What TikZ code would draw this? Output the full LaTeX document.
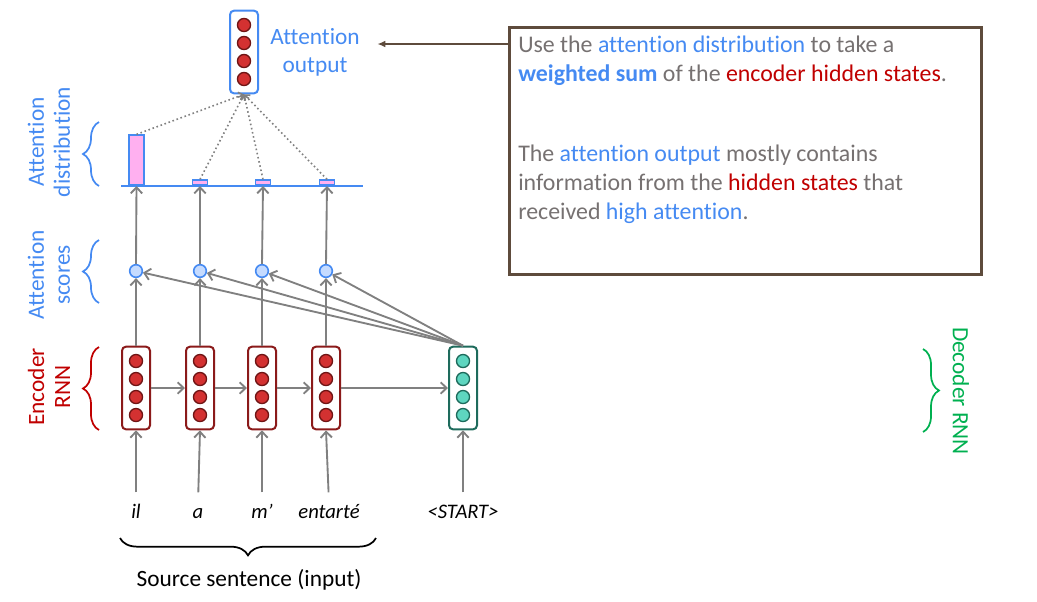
\documentclass[tikz,border=0pt]{standalone}
\usepackage{fontspec}
\setmainfont{Carlito}[Ligatures={NoCommon}]
\usetikzlibrary{arrows.meta,decorations.pathreplacing,calc}
\definecolor{cblue}{RGB}{69,138,242}
\definecolor{cred}{RGB}{192,0,0}
\definecolor{cgreen}{RGB}{0,176,80}
\definecolor{cgray}{RGB}{128,128,128}
\definecolor{tgray}{RGB}{118,113,113}
\definecolor{cbrown}{RGB}{94,75,60}
\definecolor{encb}{RGB}{139,26,26}
\definecolor{encdot}{RGB}{211,49,49}
\definecolor{teal}{RGB}{30,107,92}
\definecolor{tealdot}{RGB}{94,214,192}
\definecolor{cpink}{RGB}{255,176,240}
\definecolor{scfill}{RGB}{197,219,255}
\newcommand\mkcell[5]{%
  \node[#4] (#1) at (#2,#3) {};
  \foreach \k/\dy in {1/-27,2/-9,3/9,4/27}{\node[#5] (#1-\k) at (#2,{#3+(\dy)}) {};}
}
\begin{document}
\begin{tikzpicture}[x=0.75pt,y=-0.75pt,
  cellshape/.style={draw,line width=1.5pt,rounded corners=3pt,minimum width=21pt,minimum height=62pt,inner sep=0pt,fill=white},
  enc/.style={cellshape,draw=encb},
  dec/.style={cellshape,draw=teal},
  aout/.style={cellshape,draw=cblue},
  edot/.style={circle,draw=encb!80!black,fill=encdot,line width=1pt,minimum size=9.8pt,inner sep=0pt},
  tdot/.style={circle,draw=teal,fill=tealdot,line width=1pt,minimum size=9.8pt,inner sep=0pt},
  score/.style={circle,draw=cblue,fill=scfill,line width=1.2pt,minimum size=9.5pt,inner sep=0pt},
  bar/.style={draw=cblue,fill=cpink,line width=1.2pt,minimum width=11pt,inner sep=0pt,anchor=south},
  arr/.style={draw=cgray,line width=1.4pt,-{Straight Barb[length=4.5pt,width=8.5pt]}},
  dots/.style={draw=cgray,line width=1.2pt,dotted,-{Straight Barb[length=3pt,width=6pt]}},
  word/.style={font=\fontsize{15.5}{18}\selectfont\itshape,text height=11pt,text depth=3pt,inner sep=0pt,anchor=base},
  lab/.style={font=\fontsize{17.5}{19.5}\selectfont,align=center,inner sep=0pt},
  btxt/.style={font=\fontsize{17.9}{21}\selectfont,text=tgray,anchor=base west,inner sep=0pt},
  brc/.style={decorate,line width=1.3pt},
]
\useasboundingbox (0,0) rectangle (1037,601);

% encoder / decoder cells
\mkcell{e1}{136}{388}{enc}{edot}
\mkcell{e2}{200}{388}{enc}{edot}
\mkcell{e3}{262}{388}{enc}{edot}
\mkcell{e4}{326}{388}{enc}{edot}
\mkcell{d}{463}{388}{dec}{tdot}
\mkcell{ao}{244}{52}{aout}{edot}

% scores
\node[score] (s1) at (136,271) {};
\node[score] (s2) at (200,271) {};
\node[score] (s3) at (262,271) {};
\node[score] (s4) at (326,271) {};

% distribution
\draw[cblue,line width=1.5pt] (121,186) -- (363,186);
\node[bar,minimum height=37.5pt] (b1) at (136.5,186) {};
\node[bar,minimum height=3.8pt] (b2) at (200,186) {};
\node[bar,minimum height=3.8pt] (b3) at (263,186) {};
\node[bar,minimum height=3.8pt] (b4) at (327,186) {};

% words
\node[word] (w1) at (136,518) {il};
\node[word] (w2) at (198,518) {a};
\node[word] (w3) at (262,518) {m’};
\node[word] (w4) at (329,518) {entarté};
\node[word] (w5) at (463,518) {<START>};

% arrows
\foreach \i in {1,2,3,4}{
  \draw[arr,shorten <=8pt] (w\i.north) -- (e\i.south);
  \draw[arr] (e\i.north) -- (s\i.south);
  \draw[arr] (s\i.north) -- (b\i.south);
  \draw[arr] (d.north) -- (s\i);
  \draw[dots] (b\i.north) -- (ao.south);
}
\draw[arr,shorten <=8pt] (w5.north) -- (d.south);
\draw[arr] (e1.east) -- (e2.west);
\draw[arr] (e2.east) -- (e3.west);
\draw[arr] (e3.east) -- (e4.west);
\draw[arr] (e4.east) -- (d.west);

% attention output label
\node[lab,font=\fontsize{17.5}{21}\selectfont,text=cblue] (aol) at (315,52) {Attention\\output};

% left labels and braces
\node[lab,text=cblue,rotate=90] (ld) at (49,142) {Attention\\distribution};
\node[lab,text=cblue,rotate=90] (ls) at (49,275) {Attention\\scores};
\node[lab,text=cred,rotate=90] (le) at (49,387) {Encoder\\RNN};
\node[lab,text=cgreen,rotate=-90] (ldr) at (961,391) {Decoder RNN};
\draw[brc,cblue,decoration={brace,amplitude=12pt}] (99,186) -- (99,122);
\draw[brc,cblue,decoration={brace,amplitude=12pt}] (99,303) -- (99,240);
\draw[brc,cred,decoration={brace,amplitude=12pt}] (99,430) -- (99,347);
\draw[brc,cgreen,decoration={brace,amplitude=12pt}] (923,349) -- (923,432);

% bottom brace
\draw[brc,black,decoration={brace,mirror,amplitude=13pt}] (120,538) -- (376,538);
\node[lab,anchor=base] (src) at (249,586) {Source sentence (input)};

% callout box
\node[draw=cbrown,line width=2.2pt,anchor=north west,minimum width=354pt,minimum height=185pt,inner sep=0pt] (box) at (508,26) {};
\draw[cbrown,line width=1.5pt,-{Latex[length=6pt,width=5pt]}] ([yshift=-13.5pt]box.north west) -- ([yshift=-13.5pt,xshift=13pt]box.north west -| aol.east);
\node[btxt] (t1) at (518,52) {Use the \textcolor{cblue}{attention distribution} to take a};
\node[btxt] (t2) at (518,81) {\textcolor{cblue}{\textbf{weighted sum}} of the \textcolor{cred}{encoder hidden states}.};
\node[btxt] (t3) at (518,161) {The \textcolor{cblue}{attention output} mostly contains};
\node[btxt] (t4) at (518,190) {information from the \textcolor{cred}{hidden states} that};
\node[btxt] (t5) at (518,219) {received \textcolor{cblue}{high attention}.};
\end{tikzpicture}
\end{document}
